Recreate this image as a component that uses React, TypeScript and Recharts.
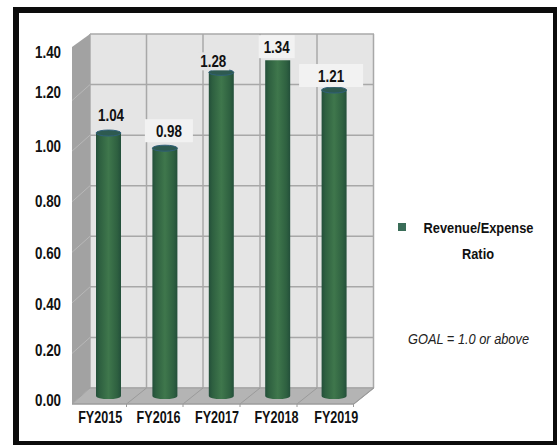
import React from "react";
import { ComposedChart, Bar, XAxis, YAxis, CartesianGrid, LabelList, Customized } from "recharts";

const categories = ["FY2015", "FY2016", "FY2017", "FY2018", "FY2019"];
const ratios = [1.04, 0.98, 1.28, 1.34, 1.21];
const yTicks = [0, 0.2, 0.4, 0.6, 0.8, 1.0, 1.2, 1.4];
const legendLines = ["Revenue/Expense", "Ratio"];
const goalText = "GOAL = 1.0 or above";

const data = categories.map((c, i) => ({ category: c, ratio: ratios[i] }));

const FONT = "'Liberation Sans', sans-serif";
const W = 557, H = 445;
const BOX = { l: 72, r: 374, t: 34, b: 404, dx: 18, dy: 16 };
const WALL_VERTICALS = [90, 146.5, 203, 260, 317, 373.5];
const GRID = "#a8a8a8";
const xLabelShift = [-8, -6, -4, -1, 2.5];
const yLabelShift: Record<string, number> = { "0": 4, "0.2": 5, "0.4": 9, "0.6": 9, "0.8": 7, "1": 3, "1.2": -1, "1.4": 10 };
const labelShift = [[2.5, -18], [4, -17], [-8, -11], [-1, -10], [-3, -14]];
const labelBoxFill = ["#e5e5e5", "#f2f2f2", "#e5e5e5", "#f2f2f2", "#f2f2f2"];
const labelBoxHalf = [[20, 9], [24, 12], [16, 9], [18, 12], [32, 12]];

const wallPx = (v: number) => 388 - v * 252.86;

const YTick = (p: any) => (
  <text x={35} y={p.y + (yLabelShift[String(p.payload.value)] ?? 0)} dy={6} textAnchor="start" fontFamily={FONT} fontWeight={700} fontSize={17} fill="#111" textLength={26} lengthAdjust="spacingAndGlyphs">
    {p.payload.value.toFixed(2)}
  </text>
);
const XTick = (p: any) => (
  <text x={p.x + xLabelShift[p.index] - 22} y={417} dy={6} textAnchor="start" fontFamily={FONT} fontWeight={700} fontSize={17} fill="#111" textLength={44} lengthAdjust="spacingAndGlyphs">
    {p.payload.value}
  </text>
);

const Cylinder = (p: any) => {
  const { x, y, width, height, index } = p;
  const rx = width / 2;
  const flat = ratios[index] > 1.3;
  const top = flat ? y + 3 : y;
  const bottom = y + height;
  return (
    <g>
      <path d={`M${x},${top} L${x},${bottom} A${rx},3 0 0 0 ${x + width},${bottom} L${x + width},${top} Z`} fill="url(#cyl)" />
      {!flat && <ellipse cx={x + rx} cy={top} rx={rx} ry={3} fill="#2d5a50" stroke="#2f5f78" strokeWidth={1} />}
    </g>
  );
};

const ValueLabel = (p: any) => {
  const { x, y, width, index, value } = p;
  const s = labelShift[index];
  const cx = x + width / 2 + s[0];
  const cy = y + s[1];
  const [hw, hh] = labelBoxHalf[index];
  return (
    <g>
      <rect x={cx - hw} y={cy - hh} width={hw * 2} height={hh * 2 - (index === 2 ? 0 : 1)} fill={labelBoxFill[index]} />
      <text x={cx - 13} y={cy} dy={6} textAnchor="start" fontFamily={FONT} fontWeight={700} fontSize={17} fill="#111" textLength={26} lengthAdjust="spacingAndGlyphs">
        {Number(value).toFixed(2)}
      </text>
    </g>
  );
};

const BoxSides = () => {
  const { l, r, t, b, dx, dy } = BOX;
  const floorBack = b - dy;
  return (
    <g>
      <polygon points={`${l + dx},${t} ${l},${t + dy - 3} ${l},${b} ${l + dx},${floorBack}`} fill="#a2a2a2" />
      <polygon points={`${l + dx},${floorBack} ${r},${floorBack} ${r - 20},${b} ${l},${b}`} fill="#b4b4b4" stroke="#a0a0a0" />
      {yTicks.slice(1, -1).map((v) => (
        <line key={v} x1={l + dx} y1={wallPx(v)} x2={l} y2={wallPx(v) + dy} stroke="#b8b8b8" />
      ))}
      {WALL_VERTICALS.map((x, i) => (
        <g key={x}>
          {i > 0 && <line x1={x} y1={floorBack} x2={x - dx - 2} y2={b} stroke="#9a9a9a" />}
          {i > 0 && <line x1={x - dx - 2} y1={b} x2={x - dx - 2} y2={b + 3} stroke="#9a9a9a" />}
        </g>
      ))}
      <line x1={l} y1={b} x2={r - 20} y2={b} stroke="#9a9a9a" />
      <rect x={398} y={223} width={8} height={8} fill="#3a6d58" />
      <text x={423.5} y={227} dy={5.5} fontFamily={FONT} fontWeight={700} fontSize={15} fill="#111" textLength={110} lengthAdjust="spacingAndGlyphs">
        {legendLines[0]}
      </text>
      <text x={462} y={253} dy={5.5} fontFamily={FONT} fontWeight={700} fontSize={15} fill="#111" textLength={32} lengthAdjust="spacingAndGlyphs">
        {legendLines[1]}
      </text>
      <text x={408} y={338} dy={5.5} fontFamily={FONT} fontStyle="italic" fontSize={15} fill="#222" textLength={121} lengthAdjust="spacingAndGlyphs">
        {goalText}
      </text>
    </g>
  );
};

export default function App() {
  return (
    <div style={{ position: "absolute", left: 0, top: 0, width: W, height: H, background: "#fff", overflow: "hidden" }}>
      <div style={{ position: "absolute", left: 13, top: 7, width: 544, height: 438, boxSizing: "border-box", background: "#fff", borderStyle: "solid", borderColor: "#0c0c0c", borderWidth: "6px 4px 4px 6px" }} />
      <div style={{ position: "absolute", left: 0, top: 0 }}>
        <ComposedChart width={W} height={H} data={data} margin={{ top: BOX.t, right: W - BOX.r, bottom: H - BOX.b - 30, left: 12 }}>
          <defs>
            <linearGradient id="cyl" x1="0" x2="1" y1="0" y2="0">
              <stop offset="0" stopColor="#234f3a" />
              <stop offset="0.15" stopColor="#2e6040" />
              <stop offset="0.5" stopColor="#3f774c" />
              <stop offset="0.85" stopColor="#2e6040" />
              <stop offset="1" stopColor="#234f3a" />
            </linearGradient>
          </defs>
          <CartesianGrid yAxisId="wall" x={90} y={34} width={284} height={354} fill="#e5e5e5" stroke={GRID} strokeWidth={1.5} horizontalValues={yTicks} verticalPoints={WALL_VERTICALS} />
          <Customized component={BoxSides} />
          <XAxis dataKey="category" height={30} axisLine={false} tickLine={false} tick={<XTick />} padding={{ left: 8, right: 12 }} interval={0} />
          <YAxis yAxisId="bars" width={60} domain={[-0.0316, 1.4316]} ticks={yTicks} axisLine={false} tickLine={false} tick={<YTick />} allowDataOverflow interval={0} />
          <YAxis yAxisId="wall" hide domain={[-0.0633, 1.4]} ticks={yTicks} allowDataOverflow />
          <Bar yAxisId="bars" dataKey="ratio" name="Revenue/Expense Ratio" barSize={25} shape={<Cylinder />} isAnimationActive={false}>
            <LabelList dataKey="ratio" content={<ValueLabel />} />
          </Bar>
        </ComposedChart>
      </div>
    </div>
  );
}
